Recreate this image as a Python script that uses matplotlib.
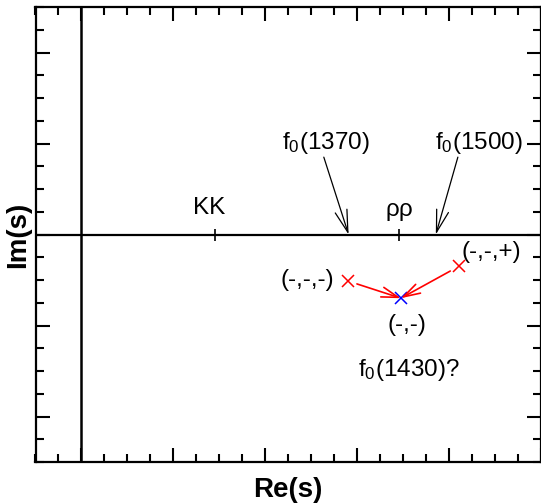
import matplotlib
matplotlib.use('Agg')
import matplotlib.pyplot as plt
from matplotlib.ticker import MultipleLocator

plt.rcParams['font.family'] = ['Liberation Sans', 'DejaVu Sans']
plt.rcParams['mathtext.fontset'] = 'custom'
plt.rcParams['mathtext.rm'] = 'Liberation Sans'
plt.rcParams['mathtext.it'] = 'Liberation Sans'

# thresholds on the real axis
thr_names = ['KK', r'$\mathregular{\rho\rho}$']
thr_x = [1.45, 3.46]
thr_label_x = [1.39, 3.46]
thr_label_y = [0.29, 0.25]

# poles on the second sheets
pole_names = ['(-,-,-)', '(-,-,+)', '(-,-)']
pole_x = [2.90, 4.11, 3.48]
pole_y = [-0.51, -0.35, -0.70]
pole_colors = ['red', 'red', 'blue']
pole_label_x = [2.46, 4.46, 3.54]
pole_label_y = [-0.50, -0.19, -1.00]

# f0 resonances pointed at on the real axis
f0_names = [r'f$_\mathregular{0}$(1370)', r'f$_\mathregular{0}$(1500)']
f0_tip_x = [2.91, 3.86]
f0_start_x = [2.64, 4.10]
f0_start_y = [0.85, 0.85]
f0_label_x = [2.66, 4.33]
f0_label_y = [1.00, 1.00]

fs = 17.5

fig = plt.figure(figsize=(5.41, 5.03), dpi=100)
ax = fig.add_axes([35.5 / 541, 41 / 503, 505 / 541, 455 / 503])
ax.set_xlim(-0.5, 5.0)
ax.set_ylim(-2.5, 2.5)

ax.axhline(0, color='black', lw=1.6, zorder=1)
ax.axvline(0, color='black', lw=1.8, zorder=1)

for s in ax.spines.values():
    s.set_linewidth(1.6)

ax.xaxis.set_major_locator(MultipleLocator(1))
ax.xaxis.set_minor_locator(MultipleLocator(0.25))
ax.yaxis.set_major_locator(MultipleLocator(1))
ax.yaxis.set_minor_locator(MultipleLocator(0.25))
ax.tick_params(which='both', direction='in', top=True, right=True,
               labelbottom=False, labelleft=False, width=1.5)
ax.tick_params(which='major', length=10)
ax.tick_params(which='minor', length=5.5)

ax.set_xlabel('Re(s)', fontsize=20, fontweight='bold', labelpad=11)
ax.set_ylabel('Im(s)', fontsize=20, fontweight='bold', labelpad=3)

# thresholds
ax.plot(thr_x, [0] * len(thr_x), ls='none', marker='|', color='black',
        markersize=8, markeredgewidth=1.2)
for name, x, y in zip(thr_names, thr_label_x, thr_label_y):
    ax.text(x, y, name, fontsize=fs, ha='center', va='center')

# f0 arrows
for name, tx, sx, sy, lx, ly in zip(f0_names, f0_tip_x, f0_start_x, f0_start_y,
                                     f0_label_x, f0_label_y):
    ax.text(lx, ly, name, fontsize=fs, ha='center', va='center')
    ax.annotate('', xy=(tx, 0), xytext=(sx, sy),
                arrowprops=dict(arrowstyle='->,head_length=0.8,head_width=0.22',
                                color='black', lw=0.9, mutation_scale=20,
                                shrinkA=0, shrinkB=0))

# poles
for x, y, c in zip(pole_x, pole_y, pole_colors):
    ax.plot(x, y, ls='none', marker='x', color=c, markersize=8, markeredgewidth=1.1)
for name, x, y in zip(pole_names, pole_label_x, pole_label_y):
    ax.text(x, y, name, fontsize=fs, ha='center', va='center')

# trajectories of the poles to the (-,-) sheet
for x, y in zip(pole_x[:2], pole_y[:2]):
    ax.annotate('', xy=(pole_x[2], pole_y[2]), xytext=(x, y),
                arrowprops=dict(arrowstyle='->,head_length=0.6,head_width=0.18',
                                color='red', lw=1.2, mutation_scale=20,
                                shrinkA=7, shrinkB=0))

ax.text(3.57, -1.49, r'f$_\mathregular{0}$(1430)?', fontsize=fs, ha='center', va='center')

fig.savefig('out.png', dpi=100)
